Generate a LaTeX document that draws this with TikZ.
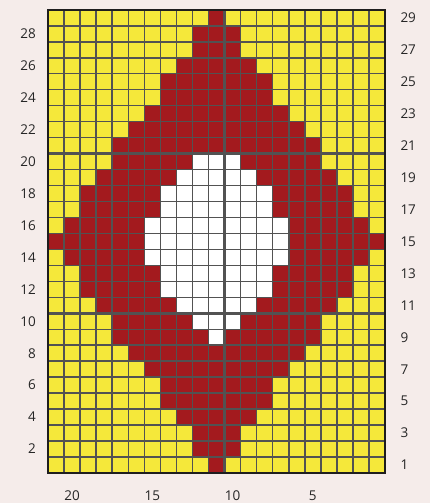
\documentclass[tikz,border=0pt]{standalone}
\usepackage{fontspec}
\setmainfont{Open Sans}
\usetikzlibrary{positioning}
\definecolor{paper}{HTML}{F5ECEA}
\definecolor{wool}{HTML}{F5E83A}
\definecolor{stitch}{HTML}{A31A1E}
\definecolor{rule}{HTML}{525252}
\definecolor{frame}{HTML}{1E1E1E}

\begin{document}
\begin{tikzpicture}[x=16.05pt,y=15.97pt,font=\fontsize{13.5}{16}\selectfont,
  gridline/.style={rule,line width=1.5pt},
  tenline/.style={rule,line width=2.6pt},
  numlabel/.style={inner sep=0pt,text=black!85}]
 \useasboundingbox[fill=paper] (-48pt,-30pt) rectangle (382pt,473pt);
 % ground
 \fill[wool] (0,0) rectangle (21,29);
 % red diamond, half width per row (row 1 at the bottom)
 \foreach \h [count=\r] in {0,1,1,2,3,3,4,5,6,6,7,8,8,9,10,9,8,8,7,6,6,5,4,3,3,2,1,1,0}
   \fill[stitch] (10-\h,\r-1) rectangle (11+\h,\r);
 % white centre, rows 9 to 20
 \foreach \w [count=\i from 9] in {0,1,2,3,3,4,4,4,3,3,2,1}
   \fill[white] (10-\w,\i-1) rectangle (11+\w,\i);
 % grid, heavier every ten stitches and rows
 \foreach \x in {1,...,20} \draw[gridline] (\x,0)--(\x,29);
 \foreach \y in {1,...,28} \draw[gridline] (0,\y)--(21,\y);
 \foreach \x in {1,11} \draw[tenline] (\x,0)--(\x,29);
 \foreach \y in {10,20} \draw[tenline] (0,\y)--(21,\y);
 \draw[frame,line width=2.6pt] (0,0) rectangle (21,29);
 % row numbers
 \foreach \r in {2,4,...,28}
   \node[numlabel,anchor=east] (rowl\r) at (-0.75,\r-0.5) {\r};
 \foreach \r in {1,3,...,29}
   \node[numlabel,anchor=west] (rowr\r) at (21.95,\r-0.5) {\r};
 % column numbers
 \foreach \c in {20,15,10,5}
   \node[numlabel] (col\c) at (21.5-\c,-1.44) {\c};
\end{tikzpicture}
\end{document}
